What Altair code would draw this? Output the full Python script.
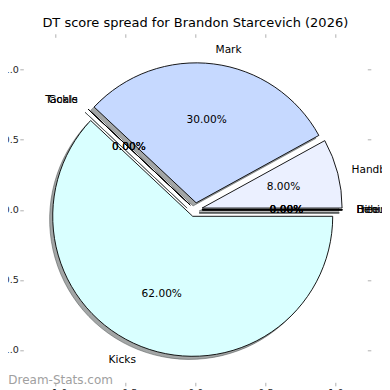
import altair as alt
import pandas as pd

# ---- data ----
categories = ["Hitouts", "Free Kicks", "Behinds", "Handball", "Mark", "Tackle", "Goals", "Kicks"]
values = [0, 0, 0, 8, 30, 0, 0, 62]
tick_values = [-1.0, -0.5, 0.0, 0.5, 1.0]
title_text = "DT score spread for Brandon Starcevich (2026)"
watermark = ["Dream-Stats.com"]

# ---- styles ----
colors = ["#eef2ff", "#e6eeff", "#e0f4ff", "#ebf0ff", "#c6d9ff", "#d4e2ff", "#dff6ff", "#d9ffff"]
EXPLODE = 0.05
LABEL_DIST = 1.1
PCT_DIST = 0.6
SHADOW = 0.022
R_PX = 140
XLIM = 1.227
YLIM = 1.232
W = 344
H = 345
FONT = "DejaVu Sans"

df = pd.DataFrame({"category": categories, "value": values,
                   "order": list(range(len(categories))), "color": colors})

xs = alt.Scale(domain=[-XLIM, XLIM], nice=False, zero=False)
ys = alt.Scale(domain=[-YLIM, YLIM], nice=False, zero=False)
axis_common = dict(values=tick_values, format=".1f", domain=False, grid=False,
                   tickColor="#b0b0b0", tickSize=3.5, tickWidth=1,
                   labelFont=FONT, labelFontSize=9.6, labelColor="#262626",
                   labelPadding=1.5, title=None)
xaxis = alt.Axis(orient="bottom", **axis_common)
yaxis = alt.Axis(orient="left", **axis_common)


def X(f):
    return alt.X(f, type="quantitative", scale=xs, axis=xaxis)


def Y(f):
    return alt.Y(f, type="quantitative", scale=ys, axis=yaxis)


base = (
    alt.Chart(df)
    .transform_window(cum="sum(value)", sort=[alt.SortField("order")], frame=[None, 0])
    .transform_joinaggregate(total="sum(value)")
    .transform_calculate(a0="2*PI*(datum.cum - datum.value)/datum.total",
                         a1="2*PI*datum.cum/datum.total")
    .transform_calculate(am="(datum.a0 + datum.a1)/2")
    .transform_calculate(cx=f"{EXPLODE}*cos(datum.am)", cy=f"{EXPLODE}*sin(datum.am)",
                         t0="PI/2 - datum.a1", t1="PI/2 - datum.a0")
    .transform_calculate(
        sx=f"datum.cx - {SHADOW}", sy=f"datum.cy - {SHADOW}",
        lx=f"datum.cx + {LABEL_DIST}*cos(datum.am)", ly=f"datum.cy + {LABEL_DIST}*sin(datum.am)",
        px=f"datum.cx + {PCT_DIST}*cos(datum.am)", py=f"datum.cy + {PCT_DIST}*sin(datum.am)",
        pct="format(100*datum.value/datum.total, '.2f') + '%'",
    )
)

theta = alt.Theta("t0:Q", scale=None, stack=None)
theta2 = alt.Theta2("t1:Q")

shadows = base.mark_arc(radius=R_PX, fill="#474d4d", fillOpacity=0.5,
                        stroke="#474d4d", strokeOpacity=0.5, strokeWidth=1).encode(
    x=X("sx"), y=Y("sy"), theta=theta, theta2=theta2)

wedges = base.mark_arc(radius=R_PX, stroke="black", strokeWidth=0.9).encode(
    x=X("cx"), y=Y("cy"), theta=theta, theta2=theta2,
    fill=alt.Fill("color:N", scale=None))

lab_left = base.transform_filter("datum.lx > 0").mark_text(
    align="left", baseline="middle", font=FONT, fontSize=10.6, color="black").encode(
    x=X("lx"), y=Y("ly"), text="category:N")
lab_right = base.transform_filter("datum.lx <= 0").mark_text(
    align="right", baseline="middle", font=FONT, fontSize=10.6, color="black").encode(
    x=X("lx"), y=Y("ly"), text="category:N")
pcts = base.mark_text(align="center", baseline="middle", font=FONT, fontSize=10.6,
                      color="black").encode(x=X("px"), y=Y("py"), text="pct:N")

wm = alt.Chart(pd.DataFrame({"t": watermark})).mark_text(
    align="left", baseline="alphabetic", font=FONT, fontSize=12, color="#a0a0a0").encode(
    text="t:N", x=alt.value(-15), y=alt.value(347))

main = alt.layer(shadows, wedges, lab_left, lab_right, pcts, wm)

tick_common = dict(values=tick_values, labels=False, domain=False, grid=False,
                   tickColor="#b0b0b0", tickSize=3.5, tickWidth=1, title=None)
axes_layer = alt.Chart(df).transform_calculate(z="0").mark_point(opacity=0).encode(
    x=alt.X("z:Q", scale=alt.Scale(domain=[-XLIM, XLIM], nice=False, zero=False),
            axis=alt.Axis(orient="top", **tick_common)),
    y=alt.Y("z:Q", scale=alt.Scale(domain=[-YLIM, YLIM], nice=False, zero=False),
            axis=alt.Axis(orient="right", **tick_common)),
)

chart = alt.layer(main, axes_layer).resolve_scale(x="independent", y="independent").properties(
    width=W, height=H,
    padding={"left": 15.3, "top": 29.3, "right": 14.5, "bottom": 8},
    autosize=alt.AutoSizeParams(type="none"),
    title=alt.TitleParams(text=title_text, font=FONT, fontSize=13, fontWeight="normal",
                          color="black", anchor="middle", offset=3),
).configure_view(stroke=None)

chart.save("out.html", embed_options={"renderer": "svg", "actions": False})
